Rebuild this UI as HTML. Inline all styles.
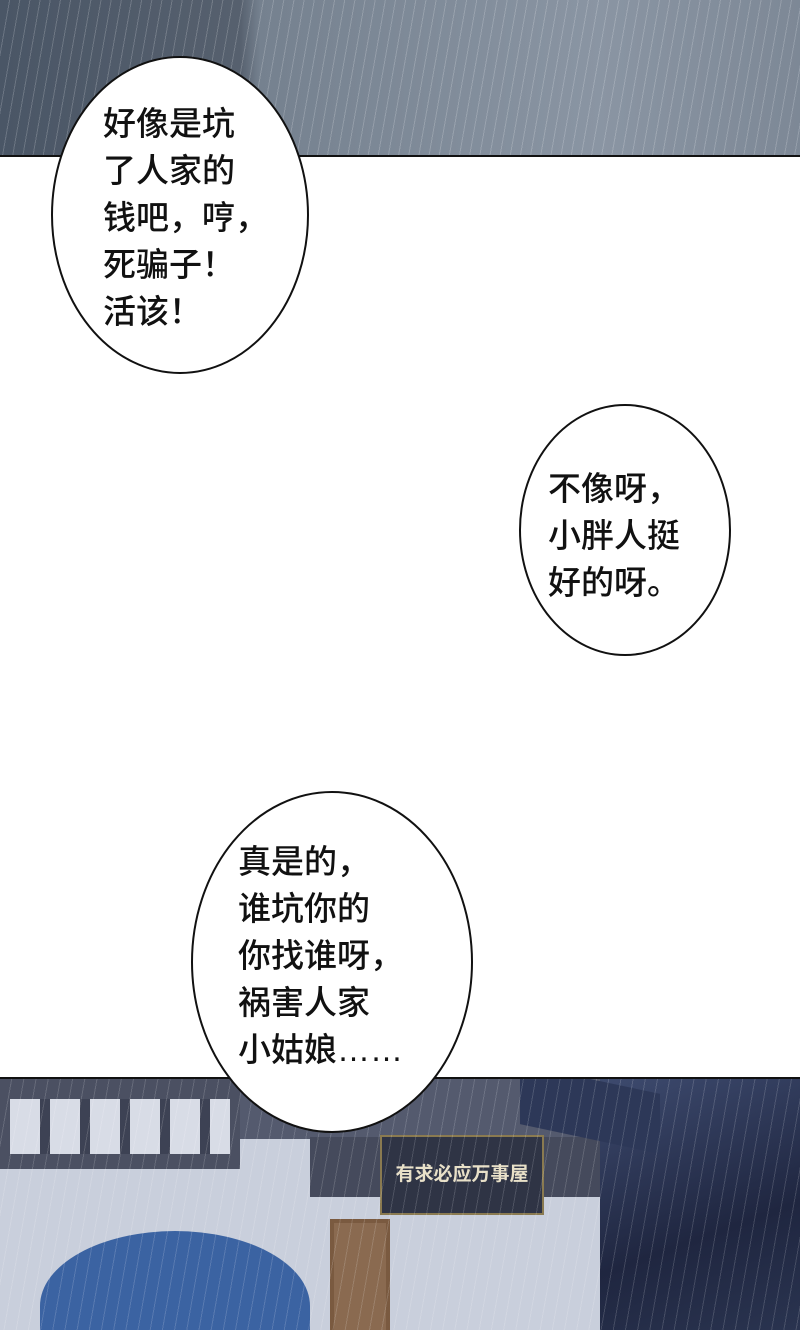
<!DOCTYPE html>
<html style="overflow:hidden;width:800px;height:1330px"><head><meta charset="utf-8"><style>
html,body{margin:0;padding:0}
body{width:800px;height:1330px;position:relative;background:#fff;overflow:hidden;font-family:"Liberation Sans","Noto Sans CJK SC",sans-serif;}
.abs{position:absolute}
.txt{position:absolute;font-size:33px;line-height:47px;color:#111;white-space:nowrap;font-weight:500}
#bot{position:absolute;left:0;top:1077px;width:800px;height:253px;overflow:hidden;background:#c9cfdc;border-top:2px solid #111;box-sizing:border-box}
</style></head><body>
<!-- top panel -->
<div class="abs" style="left:0;top:0;width:800px;height:155px;background:linear-gradient(90deg,#4a5666 0,#56606e 240px,#75818f 260px,#8a95a3 600px,#7d8896 800px);border-bottom:2px solid #111"></div>
<div class="abs" style="left:0;top:0;width:800px;height:155px;background:repeating-linear-gradient(100deg,rgba(255,255,255,0) 0 9px,rgba(255,255,255,.18) 9px 10px);"></div>
<!-- bottom panel -->
<div id="bot">
<div class="abs" style="left:0;top:0;width:240px;height:90px;background:#4b5062"></div>
<div class="abs" style="left:10px;top:20px;width:220px;height:55px;background:repeating-linear-gradient(90deg,#d8dce6 0 30px,#3d4254 30px 40px)"></div>
<div class="abs" style="left:240px;top:0;width:360px;height:60px;background:#545a6e"></div>
<div class="abs" style="left:310px;top:58px;width:300px;height:60px;background:#454a5c"></div>
<div class="abs" style="left:600px;top:0;width:200px;height:253px;background:linear-gradient(160deg,#3d4a6e,#1f2640 60%,#2a3450)"></div>
<div class="abs" style="left:520px;top:0;width:140px;height:60px;background:#2d3858;transform:skewY(12deg)"></div>
<div class="abs" style="left:380px;top:56px;width:160px;height:76px;background:#2f3445;border:2px solid #8a7a50;color:#e8e0c8;font-size:19px;line-height:76px;text-align:center;font-weight:bold">有求必应万事屋</div>
<div class="abs" style="left:330px;top:140px;width:52px;height:120px;background:#8a6a50;border:4px solid #7a5a40"></div>
<div class="abs" style="left:40px;top:152px;width:270px;height:150px;border-radius:50% 50% 0 0;background:#3b63a2"></div>
<div class="abs" style="left:0;top:0;width:800px;height:253px;background:repeating-linear-gradient(100deg,rgba(255,255,255,0) 0 11px,rgba(255,255,255,.15) 11px 12px)"></div>
</div>
<!-- bubbles -->
<svg class="abs" style="left:0;top:0" width="800" height="1330">
<ellipse cx="180" cy="215" rx="128" ry="158" fill="#fff" stroke="#111" stroke-width="2"/>
<ellipse cx="625" cy="530" rx="105" ry="125" fill="#fff" stroke="#111" stroke-width="2"/>
<ellipse cx="332" cy="962" rx="140" ry="170" fill="#fff" stroke="#111" stroke-width="2"/>
</svg>
<div class="txt" style="left:103px;top:100px">好像是坑<br>了人家的<br>钱吧，哼，<br>死骗子！<br>活该！</div>
<div class="txt" style="left:548px;top:465px">不像呀，<br>小胖人挺<br>好的呀。</div>
<div class="txt" style="left:238px;top:838px">真是的，<br>谁坑你的<br>你找谁呀，<br>祸害人家<br>小姑娘……</div>
</body></html>
